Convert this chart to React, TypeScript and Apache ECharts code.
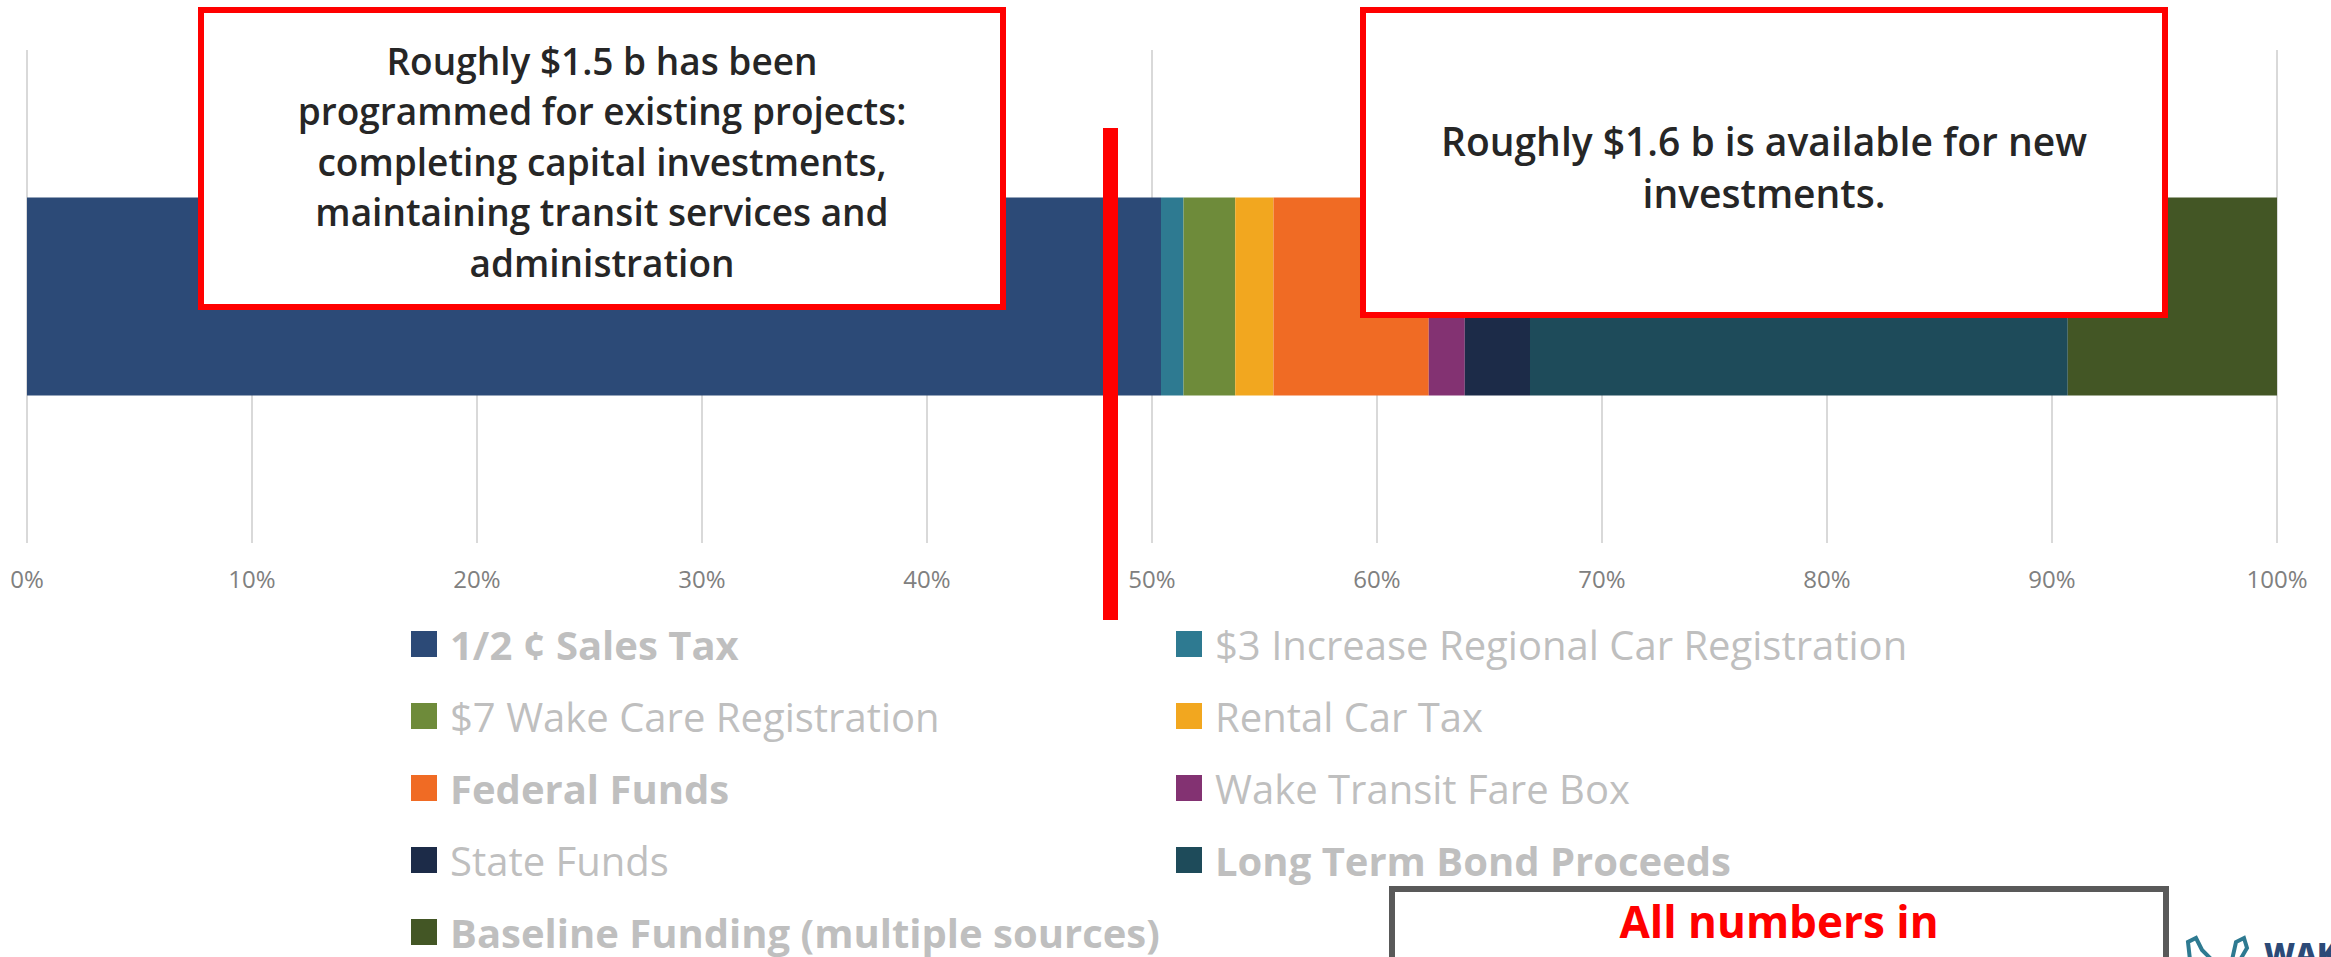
import React, { useEffect, useRef } from "react";
import * as echarts from "echarts";

const categories = ["Funding"];
const seriesNames = [
  "1/2 ¢ Sales Tax",
  "$3 Increase Regional Car Registration",
  "$7 Wake Care Registration",
  "Rental Car Tax",
  "Federal Funds",
  "Wake Transit Fare Box",
  "State Funds",
  "Long Term Bond Proceeds",
  "Baseline Funding (multiple sources)",
];
const seriesValues = [50.4, 1.0, 2.3, 1.7, 6.9, 1.6, 2.9, 23.9, 9.3];
const seriesColors = [
  "#2C4A77",
  "#2E7A91",
  "#6E8B3A",
  "#F2A71F",
  "#F06B24",
  "#833272",
  "#1C2B48",
  "#1E4B5A",
  "#435625",
];
const boldNames = [
  "1/2 ¢ Sales Tax",
  "Federal Funds",
  "Long Term Bond Proceeds",
  "Baseline Funding (multiple sources)",
];
const tickInterval = 10;
const boxText1 =
  "Roughly $1.5 b has been\nprogrammed for existing projects:\ncompleting capital investments,\nmaintaining transit services and\nadministration";
const boxText2 = "Roughly $1.6 b is available for new\ninvestments.";
const noteText = "All numbers in";

const FONT = "'Open Sans', 'Noto Sans', sans-serif";

export default function App() {
  const ref = useRef<HTMLDivElement>(null);
  useEffect(() => {
    if (!ref.current) return;
    const chart = echarts.init(ref.current, undefined, { renderer: "svg" });
    const legendText = {
      color: "#BFBFBF",
      fontFamily: FONT,
      fontSize: 40,
      rich: {
        b: {
          color: "#BFBFBF",
          fontFamily: FONT,
          fontSize: 40,
          fontWeight: "bold",
          lineHeight: 44,
          padding: [0, 0, 0, 8],
        },
        n: {
          color: "#BFBFBF",
          fontFamily: FONT,
          fontSize: 40,
          fontWeight: "normal",
          lineHeight: 44,
          padding: [0, 0, 0, 8],
        },
      },
    };
    const fmt = (name: string) =>
      boldNames.includes(name) ? `{b|${name}}` : `{n|${name}}`;
    // legend laid out as two columns: item i -> column i % 2, row floor(i / 2)
    const legends = seriesNames.map((name, i) => ({
      orient: "horizontal",
      left: i % 2 === 0 ? 411 : 1176,
      top: 624 + Math.floor(i / 2) * 72,
      itemWidth: 26,
      itemHeight: 26,
      icon: "rect",
      formatter: fmt,
      textStyle: legendText,
      selectedMode: false,
      padding: 0,
      data: [name],
    }));
    chart.setOption({
      animation: false,
      textStyle: { fontFamily: FONT },
      grid: { left: 27, right: 54, top: 50, bottom: 414, containLabel: false },
      xAxis: {
        type: "value",
        min: 0,
        max: 100,
        interval: tickInterval,
        axisLine: { show: false },
        axisTick: { show: false },
        splitLine: { show: true, lineStyle: { color: "#D9D9D9", width: 2 } },
        axisLabel: {
          formatter: "{value}%",
          color: "#808080",
          fontSize: 24,
          fontFamily: FONT,
          margin: 23,
        },
      },
      yAxis: {
        type: "category",
        data: categories,
        show: false,
      },
      legend: legends,
      series: seriesNames.map((name, i) => ({
        name,
        type: "bar",
        stack: "total",
        barWidth: 198,
        itemStyle: { color: seriesColors[i] },
        data: [seriesValues[i]],
      })),
      graphic: [
        {
          type: "rect",
          z: 100,
          shape: { x: 1103, y: 128, width: 15, height: 492 },
          style: { fill: "#FF0000" },
        },
        {
          type: "rect",
          z: 100,
          shape: { x: 201, y: 10, width: 802, height: 297 },
          style: { fill: "#FFFFFF", stroke: "#FF0000", lineWidth: 6 },
        },
        {
          type: "text",
          z: 101,
          x: 602,
          y: 161,
          style: {
            text: boxText1,
            fill: "#262626",
            font: `600 37px ${FONT}`,
            lineHeight: 50.5,
            align: "center",
            verticalAlign: "middle",
          },
        },
        {
          type: "rect",
          z: 100,
          shape: { x: 1363, y: 10, width: 802, height: 305 },
          style: { fill: "#FFFFFF", stroke: "#FF0000", lineWidth: 6 },
        },
        {
          type: "text",
          z: 101,
          x: 1764,
          y: 166,
          style: {
            text: boxText2,
            fill: "#262626",
            font: `600 39px ${FONT}`,
            lineHeight: 52,
            align: "center",
            verticalAlign: "middle",
          },
        },
        {
          type: "rect",
          z: 100,
          shape: { x: 1392, y: 889, width: 774, height: 120 },
          style: { fill: "#FFFFFF", stroke: "#595959", lineWidth: 6 },
        },
        {
          type: "text",
          z: 101,
          x: 1779,
          y: 921,
          style: {
            text: noteText,
            fill: "#FF0000",
            font: `bold 44px ${FONT}`,
            align: "center",
            verticalAlign: "middle",
          },
        },
        {
          type: "polyline",
          z: 100,
          shape: {
            points: [
              [2190, 960],
              [2188, 942],
              [2196, 938],
              [2202, 950],
              [2212, 960],
            ],
          },
          style: { stroke: "#2E7A91", lineWidth: 4, fill: "none" },
        },
        {
          type: "polyline",
          z: 100,
          shape: {
            points: [
              [2232, 960],
              [2236, 942],
              [2244, 938],
              [2247, 948],
              [2240, 960],
            ],
          },
          style: { stroke: "#2E7A91", lineWidth: 4, fill: "none" },
        },
        {
          type: "text",
          z: 101,
          x: 2264,
          y: 938,
          style: {
            text: "WAKE",
            fill: "#2C4A77",
            font: `900 30px ${FONT}`,
            align: "left",
            verticalAlign: "top",
          },
        },
      ],
    });
    return () => chart.dispose();
  }, []);
  return (
    <div
      ref={ref}
      style={{
        position: "fixed",
        left: 0,
        top: 0,
        width: 2331,
        height: 957,
        background: "#FFFFFF",
      }}
    />
  );
}
